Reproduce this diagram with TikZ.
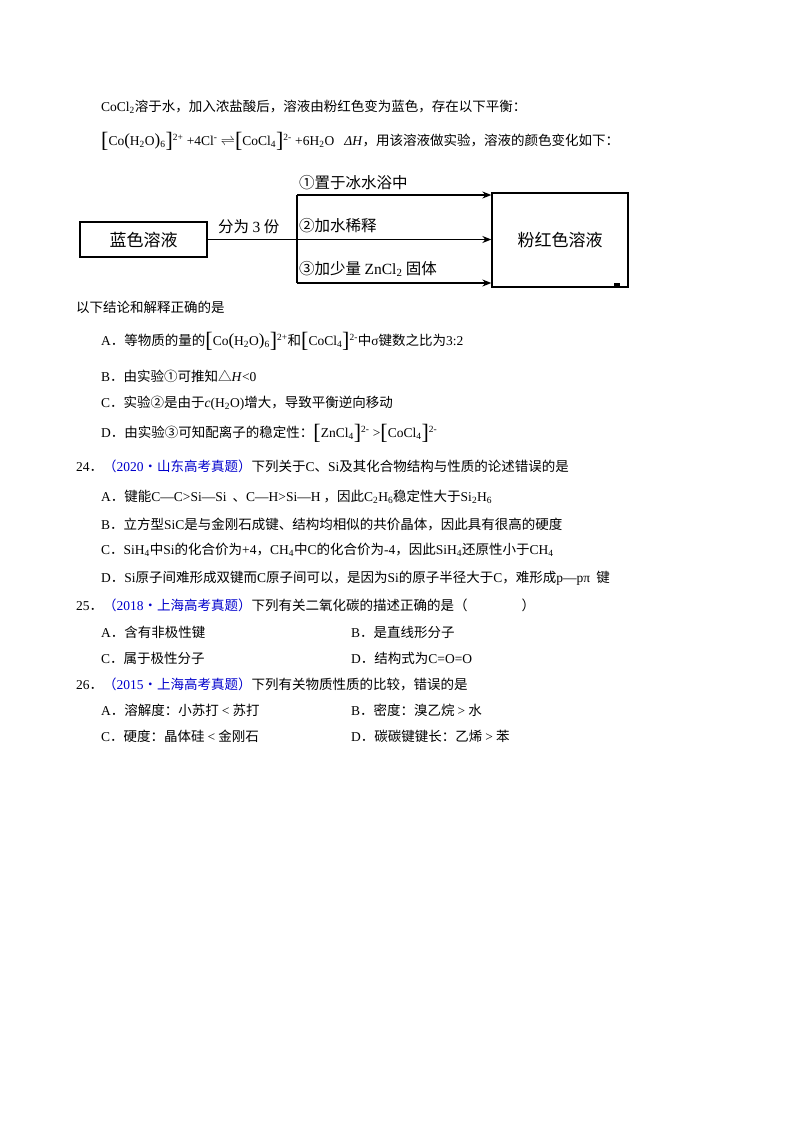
\documentclass[tikz,border=0pt]{standalone}
\usepackage{fontspec}
\setmainfont{Noto Sans CJK SC}
\newfontfamily\tm{Liberation Serif}
\usetikzlibrary{arrows.meta}
\newcommand{\sbb}[1]{\textsubscript{#1}}
\newcommand{\spp}[1]{\textsuperscript{#1}}
\newcommand{\LB}{\raisebox{-0.3ex}{\fontsize{22}{22}\selectfont [}}
\newcommand{\RB}{\raisebox{-0.3ex}{\fontsize{22}{22}\selectfont ]}}
\newcommand{\LP}{\raisebox{-0.1ex}{\fontsize{17}{17}\selectfont (}}
\newcommand{\RP}{\raisebox{-0.1ex}{\fontsize{17}{17}\selectfont )}}
\begin{document}
\begin{tikzpicture}[x=1pt,y=-1pt,
  txt/.style={anchor=west,inner sep=0pt,font=\fontsize{13.5}{15}\selectfont},
  bx/.style={draw,line width=1.3pt,inner sep=0pt},
  big/.style={font=\fontsize{17}{19}\selectfont,inner sep=0pt},
  lab/.style={anchor=west,inner sep=0pt,font=\fontsize{15.5}{17}\selectfont},
  arr/.style={line width=1.3pt,-{Stealth[length=9pt,width=7pt]}}]
\useasboundingbox (0,0) rectangle (800,1132);
\node[txt] (l1) at (101,107) {{\tm CoCl\sbb{2}}溶于水，加入浓盐酸后，溶液由粉红色变为蓝色，存在以下平衡：};
\node[txt] (l2) at (101,141) {{\tm \LB Co\LP H\sbb{2}O\RP\sbb{6}\RB\spp{2+} +4Cl\spp{-} $\rightleftharpoons$\LB CoCl\sbb{4}\RB\spp{2-} +6H\sbb{2}O \ \ \textit{ΔH}}，用该溶液做实验，溶液的颜色变化如下：};
% diagram
\node[bx,minimum width=127,minimum height=35,big] (blue) at (143.5,239.5) {蓝色溶液};
\node[bx,minimum width=136,minimum height=94,big] (pink) at (560,240) {粉红色溶液};
\coordinate (jt) at (297,195);
\coordinate (jm) at (297,239.5);
\coordinate (jb) at (297,283);
\draw[line width=1.3pt] (blue.east) -- (jm);
\draw[line width=1.3pt] (jt) -- (jb);
\draw[arr] (jt) -- (jt -| pink.west);
\draw[arr] (jm) -- (jm -| pink.west);
\draw[arr] (jb) -- (jb -| pink.west);
\fill (614,283) rectangle (620,288);
\node[lab] (d0) at (218,227) {分为 {\tm 3} 份};
\node[lab] (d1) at (299,183) {①置于冰水浴中};
\node[lab] (d2) at (299,226) {②加水稀释};
\node[lab] (d3) at (299,269) {③加少量 {\tm ZnCl\sbb{2}} 固体};
\node[txt] (q) at (76,307) {以下结论和解释正确的是};
\node[txt] (a) at (101,341) {{\tm A}．等物质的量的{\tm \LB Co\LP H\sbb{2}O\RP\sbb{6}\RB\spp{2+}}和{\tm \LB CoCl\sbb{4}\RB\spp{2-}}中{\tm σ}键数之比为{\tm 3:2}};
\node[txt] (b) at (101,376) {{\tm B}．由实验①可推知△{\tm \textit{H}<0}};
\node[txt] (c) at (101,403) {{\tm C}．实验②是由于{\tm \textit{c}(H\sbb{2}O)}增大，导致平衡逆向移动};
\node[txt] (d) at (101,433) {{\tm D}．由实验③可知配离子的稳定性：{\tm \LB ZnCl\sbb{4}\RB\spp{2-} >\LB CoCl\sbb{4}\RB\spp{2-}}};
\node[txt] (q24) at (76,466) {{\tm 24}．\textcolor{blue!80!black}{（{\tm 2020}·山东高考真题）}下列关于{\tm C}、{\tm Si}及其化合物结构与性质的论述错误的是};
\node[txt] (a24) at (101,497) {{\tm A}．键能{\tm C—C>Si—Si} \ 、{\tm C—H>Si—H} ，因此{\tm C\sbb{2}H\sbb{6}}稳定性大于{\tm Si\sbb{2}H\sbb{6}}};
\node[txt] (b24) at (101,524) {{\tm B}．立方型{\tm SiC}是与金刚石成键、结构均相似的共价晶体，因此具有很高的硬度};
\node[txt] (c24) at (101,550) {{\tm C}．{\tm SiH\sbb{4}}中{\tm Si}的化合价为{\tm +4}，{\tm CH\sbb{4}}中{\tm C}的化合价为{\tm -4}，因此{\tm SiH\sbb{4}}还原性小于{\tm CH\sbb{4}}};
\node[txt] (d24) at (101,578) {{\tm D}．{\tm Si}原子间难形成双键而{\tm C}原子间可以，是因为{\tm Si}的原子半径大于{\tm C}，难形成{\tm p—pπ} \ 键};
\node[txt] (q25) at (76,605) {{\tm 25}．\textcolor{blue!80!black}{（{\tm 2018}·上海高考真题）}下列有关二氧化碳的描述正确的是（\hspace{4em}）};
\node[txt] (a25) at (101,632) {{\tm A}．含有非极性键};
\node[txt] (b25) at (351,632) {{\tm B}．是直线形分子};
\node[txt] (c25) at (101,658) {{\tm C}．属于极性分子};
\node[txt] (d25) at (351,658) {{\tm D}．结构式为{\tm C=O=O}};
\node[txt] (q26) at (76,684) {{\tm 26}．\textcolor{blue!80!black}{（{\tm 2015}·上海高考真题）}下列有关物质性质的比较，错误的是};
\node[txt] (a26) at (101,710) {{\tm A}．溶解度：小苏打 {\tm <} 苏打};
\node[txt] (b26) at (351,710) {{\tm B}．密度：溴乙烷 {\tm >} 水};
\node[txt] (c26) at (101,736) {{\tm C}．硬度：晶体硅 {\tm <} 金刚石};
\node[txt] (d26) at (351,736) {{\tm D}．碳碳键键长：乙烯 {\tm >} 苯};
\end{tikzpicture}
\end{document}
